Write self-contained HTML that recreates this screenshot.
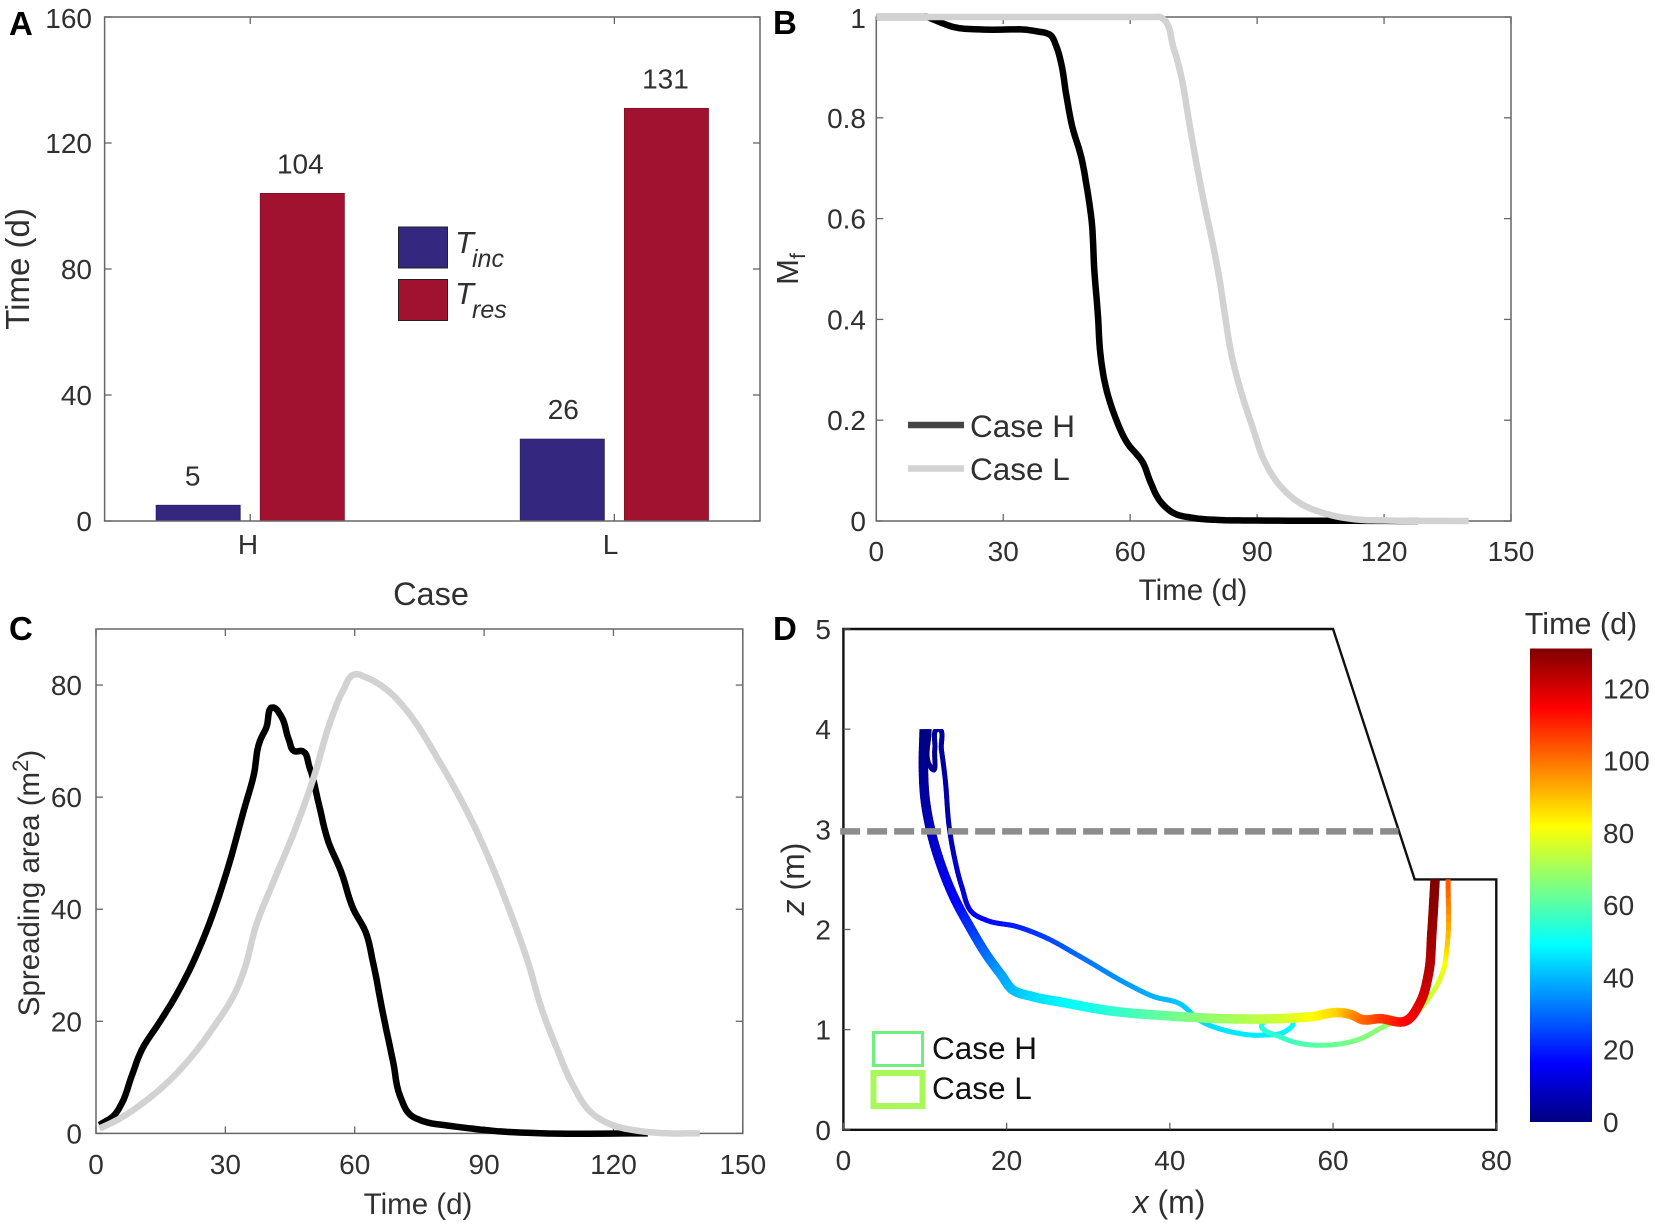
<!DOCTYPE html>
<html lang="en">
<head>
<meta charset="utf-8">
<title>Spreading results, panels A to D</title>
<style>
html,body{margin:0;padding:0;background:#fff;}
svg{display:block;font-family:"Liberation Sans",sans-serif;}
text{fill:#303030;}
.letter{font-weight:bold;font-size:33px;fill:#000;}
.tick{font-size:28px;}
.title{font-size:29.5px;}
</style>
</head>
<body>
<svg id="fig" xmlns="http://www.w3.org/2000/svg" width="1655" height="1226" viewBox="0 0 1655 1226">
  <defs>
    <linearGradient id="jetGrad" x1="0" y1="1" x2="0" y2="0"></linearGradient>
    <clipPath id="clipD"><polygon id="clipDPoly" points=""></polygon></clipPath>
  </defs>
  <rect x="0" y="0" width="1655" height="1226" fill="#fff"></rect>

  <g id="panelA">
    <text class="letter" x="9" y="35">A</text>
    <text class="title" style="font-size:33px" transform="translate(29,269) rotate(-90)" text-anchor="middle">Time (d)</text>
    <text class="title" style="font-size:32.5px" x="431" y="605" text-anchor="middle">Case</text>
    <rect x="398.5" y="227" width="49" height="41" fill="#33277f" stroke="#222" stroke-width="1"></rect>
    <rect x="398.5" y="279.5" width="49" height="41" fill="#a01230" stroke="#222" stroke-width="1"></rect>
    <text x="455" y="253" font-size="31" font-style="italic">T<tspan x="472" y="267" font-size="25">inc</tspan></text>
    <text x="455" y="304" font-size="31" font-style="italic">T<tspan x="472" y="318" font-size="25">res</tspan></text>
  </g>

  <g id="panelB">
    <text class="letter" x="773" y="34">B</text>
    <text class="title" x="1193" y="600" text-anchor="middle">Time (d)</text>
    <text class="title" style="font-size:31px" transform="translate(798,269) rotate(-90)" text-anchor="middle">M<tspan font-size="21" dy="7">f</tspan></text>
  </g>

  <g id="panelC">
    <text class="letter" x="9" y="640">C</text>
    <text class="title" x="418" y="1214" text-anchor="middle">Time (d)</text>
    <text class="title" transform="translate(39,883) rotate(-90)" text-anchor="middle">Spreading area (m<tspan font-size="22" dy="-11">2</tspan><tspan dy="11">)</tspan></text>
  </g>

  <g id="panelD">
    <text class="letter" x="773" y="640">D</text>
    <text class="title" style="font-size:32px" x="1169" y="1213" text-anchor="middle"><tspan font-style="italic">x</tspan> (m)</text>
    <text class="title" style="font-size:32px" transform="translate(804,879) rotate(-90)" text-anchor="middle"><tspan font-style="italic">z</tspan> (m)</text>
    <rect x="873.5" y="1032.5" width="49" height="33" fill="none" stroke="#6ff07c" stroke-width="3"></rect>
    <rect x="873.5" y="1073" width="49" height="33" fill="none" stroke="#a8f85a" stroke-width="6"></rect>
    <text x="932" y="1059" font-size="31.5" style="fill:#111">Case H</text>
    <text x="932" y="1099" font-size="31.5" style="fill:#111">Case L</text>
    <text class="title" style="font-size:30.5px" x="1581" y="634" text-anchor="middle">Time (d)</text>
  </g>
</svg>

<script>
// Panel A values
const barCategories = ['H', 'L'];
const incubationDays = [5, 26];
const residenceDays = [104, 131];
const barTicksY = [0, 40, 80, 120, 160];

// Panel B values
const massTicksX = [0, 30, 60, 90, 120, 150];
const massTicksY = [0, 0.2, 0.4, 0.6, 0.8, 1];
const massTimeH = [0, 11, 12, 13.5, 18.3, 25.6, 37.6, 41.3, 42.5, 43.7, 44.9, 46.3, 48.5, 49.7, 50.9, 51.5, 52.4, 53, 54.5, 56.3, 59.3, 63, 64.8, 67.2, 70.2, 75, 81, 90, 105, 128];
const massValueH = [1, 1, 1, 0.995, 0.98, 0.975, 0.972, 0.963, 0.943, 0.908, 0.845, 0.783, 0.72, 0.665, 0.595, 0.5, 0.406, 0.328, 0.257, 0.21, 0.155, 0.116, 0.077, 0.038, 0.016, 0.006, 0.002, 0.001, 0.0005, 0];
const massTimeL = [0, 30, 60, 66, 67, 67.5, 70.2, 72, 73.8, 75.6, 77.4, 79.2, 81, 82.3, 84, 85.9, 88.9, 91.9, 95.5, 100.4, 106.4, 113.6, 121, 140];
const massValueL = [1, 1, 1, 1, 1, 0.998, 0.94, 0.885, 0.798, 0.712, 0.634, 0.563, 0.485, 0.414, 0.328, 0.265, 0.187, 0.116, 0.069, 0.034, 0.014, 0.003, 0.001, 0];

// Panel C values
const areaTicksX = [0, 30, 60, 90, 120, 150];
const areaTicksY = [0, 20, 40, 60, 80];
const areaTimeH = [0.8, 4.3, 6, 8.3, 10.6, 14.7, 18.1, 22.2, 26.2, 30.8, 34.3, 36.6, 38, 39.5, 41.2, 42.9, 44.7, 46, 47.9, 49.5, 51.6, 53.9, 56.8, 59.7, 62.5, 64.3, 66.6, 68.9, 70.6, 72.9, 75.8, 81.6, 87.3, 93, 100, 128];
const areaValueH = [1.5, 3.3, 5.4, 10.3, 14.9, 19.8, 24, 30, 37.3, 47.9, 57.7, 64, 70, 72.4, 76, 74.5, 70.3, 68.2, 68.2, 65.4, 59, 52, 46.8, 40, 36, 30.3, 21.2, 12.8, 6.5, 3.3, 2.2, 1.4, 0.85, 0.4, 0.1, 0];
const areaTimeL = [0.8, 5.4, 11.2, 17, 22.7, 27.3, 32, 34.3, 37.2, 41.2, 45.8, 50.4, 54.5, 57.3, 59.9, 63.1, 67.7, 72.3, 79.3, 85, 90.2, 95.4, 100, 103.5, 107, 110.4, 115, 119.7, 125.4, 131, 140];
const areaValueL = [0.85, 2.6, 5.6, 9.4, 14.2, 19, 24.7, 29, 37.3, 45, 53.5, 63.3, 73.8, 79, 81.9, 81.2, 79, 75.2, 66.8, 59, 50.7, 40.8, 31, 21.9, 14.9, 8.9, 3.6, 1.5, 0.5, 0.07, 0];

// Panel D values
const trackTicksX = [0, 20, 40, 60, 80];
const trackTicksZ = [0, 1, 2, 3, 4, 5];
const colorbarTicks = [0, 20, 40, 60, 80, 100, 120];
const colorbarMax = 131;
const terrainX = [0, 0, 60, 70, 80, 80, 0];
const terrainZ = [0, 5, 5, 2.5, 2.5, 0, 0];
const waterLevelX = [-0.4, 68];
const waterLevelZ = [2.98, 2.98];
const trackXH = [10.5, 10.7, 10.9, 11.2, 11.63, 12, 12.45, 13, 13.6, 14.5, 15.9, 17.6, 21.2, 24.5, 29, 34.7, 38, 41.2, 43.7, 47.4, 51.4, 54.3, 55.1, 53.3, 51.3, 53.9, 59.3, 62.9, 67, 69.5, 71.5, 73.5, 74, 74.1];
const trackZH = [4, 3.62, 3.6, 3.8, 4, 3.8, 3.52, 3, 2.72, 2.43, 2.16, 2.09, 2.03, 1.93, 1.73, 1.46, 1.33, 1.26, 1.09, 0.98, 0.945, 0.99, 1.06, 1.11, 1.06, 0.915, 0.845, 0.895, 1.06, 1.12, 1.29, 1.59, 1.85, 2.5];
const trackTimeH = [0, 1, 1.5, 2, 3, 3.5, 4, 6, 8, 10, 13, 17, 20, 24, 30, 36, 39, 42, 44, 46, 47, 48, 49, 51, 53, 56, 62, 65, 68, 70, 74, 79, 88, 104];
const trackXL = [9.9, 9.8, 10, 10.7, 11.8, 13.5, 15.6, 17.6, 19.4, 20.7, 23.2, 27, 32.5, 39.4, 46.3, 53.3, 57.4, 60.9, 62.2, 63.6, 65.7, 69, 70.6, 71.7, 72.1, 72.5];
const trackZL = [4, 3.62, 3.31, 2.99, 2.68, 2.33, 2.01, 1.74, 1.54, 1.4, 1.33, 1.27, 1.19, 1.14, 1.11, 1.11, 1.13, 1.17, 1.15, 1.1, 1.11, 1.09, 1.26, 1.56, 1.96, 2.5];
const trackTimeL = [0, 2, 4, 7, 11, 15, 22, 30, 37, 40, 44, 48, 54, 62, 69, 75, 81, 88, 94, 100, 106, 114, 118, 123, 127, 131];

const SVG_NS = 'http://www.w3.org/2000/svg';
function node(parent, tag, attrs) {
  const el = document.createElementNS(SVG_NS, tag);
  for (const k in attrs) el.setAttribute(k, attrs[k]);
  parent.appendChild(el);
  return el;
}
function linear(d0, d1, r0, r1) {
  return v => r0 + (v - d0) * (r1 - r0) / (d1 - d0);
}
function smooth(pts, steps) {
  const n = pts.length;
  const dirs = pts.map((p, i) => {
    const a = pts[Math.max(i - 1, 0)], b = pts[Math.min(i + 1, n - 1)];
    const x1 = p[0] - a[0], y1 = p[1] - a[1], x2 = b[0] - p[0], y2 = b[1] - p[1];
    const l1 = Math.hypot(x1, y1), l2 = Math.hypot(x2, y2);
    let dx, dy;
    if (l1 === 0) { dx = x2; dy = y2; }
    else if (l2 === 0) { dx = x1; dy = y1; }
    else { dx = x1 / l1 * l2 + x2 / l2 * l1; dy = y1 / l1 * l2 + y2 / l2 * l1; }
    const l = Math.hypot(dx, dy) || 1;
    return [dx / l, dy / l];
  });
  const out = [pts[0]];
  for (let i = 0; i < n - 1; i++) {
    const p = pts[i], q = pts[i + 1];
    const L = Math.hypot(q[0] - p[0], q[1] - p[1]) / 3;
    const c1 = [p[0] + dirs[i][0] * L, p[1] + dirs[i][1] * L];
    const c2 = [q[0] - dirs[i + 1][0] * L, q[1] - dirs[i + 1][1] * L];
    for (let s = 1; s <= steps; s++) {
      const f = s / steps, g = 1 - f;
      out.push([
        g*g*g*p[0] + 3*g*g*f*c1[0] + 3*g*f*f*c2[0] + f*f*f*q[0],
        g*g*g*p[1] + 3*g*g*f*c1[1] + 3*g*f*f*c2[1] + f*f*f*q[1],
        p[2] === undefined ? undefined : p[2] + (q[2] - p[2]) * f
      ]);
    }
  }
  return out;
}
function jet(v) {
  const c = x => Math.round(255 * Math.max(0, Math.min(1, x)));
  return 'rgb(' + c(1.5 - Math.abs(4 * v - 3)) + ',' + c(1.5 - Math.abs(4 * v - 2)) + ',' + c(1.5 - Math.abs(4 * v - 1)) + ')';
}
function drawFrame(parent, box, color, width) {
  const f = node(parent, 'rect', {x: box.l, y: box.t, width: box.r - box.l, height: box.b - box.t, fill: 'none', stroke: color, 'stroke-width': width});
  
  
}
function drawTicksX(parent, box, values, scale, labels, labelY, labelScale) {
  values.forEach((v, i) => {
    const t = node(parent, 'line', {x1: scale(v), x2: scale(v), y1: box.b, y2: box.b - 7, stroke: '#666', 'stroke-width': 1.3});
    
    
    const u = node(parent, 'line', {x1: scale(v), x2: scale(v), y1: box.t, y2: box.t + 7, stroke: '#666', 'stroke-width': 1.3});
    
    
    const lab = node(parent, 'text', {x: (labelScale || scale)(v), y: labelY, 'text-anchor': 'middle', class: 'tick'});
    lab.textContent = labels[i];
    
    
  });
}
function drawTicksY(parent, box, values, scale, labelX) {
  values.forEach(v => {
    const t = node(parent, 'line', {x1: box.l, x2: box.l + 7, y1: scale(v), y2: scale(v), stroke: '#666', 'stroke-width': 1.3});
    
    
    const u = node(parent, 'line', {x1: box.r, x2: box.r - 7, y1: scale(v), y2: scale(v), stroke: '#666', 'stroke-width': 1.3});
    
    
    const lab = node(parent, 'text', {x: labelX, y: Math.max(scale(v) + 10, 28), 'text-anchor': 'end', class: 'tick'});
    lab.textContent = String(v);
    
    
  });
}
function curvePath(xs, ys, sx, sy) {
  const pts = xs.map((x, i) => [sx(x), sy(ys[i])]);
  return smooth(pts, 6).map((p, i) => (i ? 'L' : 'M') + p[0].toFixed(1) + ' ' + p[1].toFixed(1)).join('');
}

/* Panel A */
(function () {
  const g = document.getElementById('panelA');
  const box = {l: 104.6, r: 760, t: 17, b: 521};
  const sx = linear(0.6, 2.4, box.l, box.r);
  const sy = linear(0, 160, box.b, box.t);
  const barW = 0.231, off = 0.143;
  const incNudge = [-5.5, 1];
  const resNudge = [-2, -1];
  barCategories.forEach((cat, i) => {
    const c = i + 1;
    const b1 = node(g, 'rect', {x: sx(c - off - barW / 2), y: sy(incubationDays[i]), width: sx(barW) - sx(0), height: box.b - sy(incubationDays[i]), fill: '#33277f', stroke: '#2a2060', 'stroke-width': 0.8});
    
    
    const b2 = node(g, 'rect', {x: sx(c + off - barW / 2), y: sy(residenceDays[i]), width: sx(barW) - sx(0), height: box.b - sy(residenceDays[i]), fill: '#a01230', stroke: '#7c1026', 'stroke-width': 0.8});
    
    
    const l1 = node(g, 'text', {x: sx(c - off) + incNudge[i], y: sy(incubationDays[i]) - 20, 'text-anchor': 'middle', 'font-size': 28});
    l1.textContent = String(incubationDays[i]);
    
    
    const l2 = node(g, 'text', {x: sx(c + off) + resNudge[i], y: sy(residenceDays[i]) - 20, 'text-anchor': 'middle', 'font-size': 28});
    l2.textContent = String(residenceDays[i]);
    
    
  });
  drawFrame(g, box, '#666', 1.5);
  drawTicksX(g, box, barCategories.map((c, i) => i + 1), sx, barCategories, 554, linear(1, 2, 248, 610.5));
  drawTicksY(g, box, barTicksY, sy, 92);
})();

/* Panel B */
(function () {
  const g = document.getElementById('panelB');
  const box = {l: 876.3, r: 1511, t: 17, b: 521};
  const sx = linear(0, 150, box.l, box.r);
  const sy = linear(0, 1, box.b, box.t);
  drawFrame(g, box, '#666', 1.5);
  drawTicksX(g, box, massTicksX, sx, massTicksX.map(String), 561);
  drawTicksY(g, box, massTicksY, sy, 866);
  const h = node(g, 'path', {d: curvePath(massTimeH, massValueH, sx, sy), fill: 'none', stroke: '#000', 'stroke-width': 6.5, 'stroke-linejoin': 'round'});
  
  
  const l = node(g, 'path', {d: curvePath(massTimeL, massValueL, sx, sy), fill: 'none', stroke: '#d2d2d2', 'stroke-width': 6.5, 'stroke-linejoin': 'round'});
  
  
  const k1 = node(g, 'line', {x1: 908, x2: 964, y1: 425, y2: 425, stroke: '#444', 'stroke-width': 6.5});
  
  
  const k2 = node(g, 'line', {x1: 908, x2: 964, y1: 468.5, y2: 468.5, stroke: '#d2d2d2', 'stroke-width': 6.5});
  
  
  const t1 = node(g, 'text', {x: 970, y: 437, 'font-size': 31.5});
  t1.textContent = 'Case H';
  
  
  const t2 = node(g, 'text', {x: 970, y: 480, 'font-size': 31.5});
  t2.textContent = 'Case L';
  
  
})();

/* Panel C */
(function () {
  const g = document.getElementById('panelC');
  const box = {l: 96, r: 742.8, t: 629, b: 1133.4};
  const sx = linear(0, 150, box.l, box.r);
  const sy = linear(0, 90, box.b, box.t);
  drawFrame(g, box, '#666', 1.5);
  drawTicksX(g, box, areaTicksX, sx, areaTicksX.map(String), 1174);
  drawTicksY(g, box, areaTicksY, sy, 82);
  const h = node(g, 'path', {d: curvePath(areaTimeH, areaValueH, sx, sy), fill: 'none', stroke: '#000', 'stroke-width': 6.5, 'stroke-linejoin': 'round'});
  
  
  const l = node(g, 'path', {d: curvePath(areaTimeL, areaValueL, sx, sy), fill: 'none', stroke: '#d2d2d2', 'stroke-width': 6.5, 'stroke-linejoin': 'round'});
  
  
})();

/* Panel D */
(function () {
  const g = document.getElementById('panelD');
  const box = {l: 843.4, r: 1496.3, t: 629, b: 1129.8};
  const sx = linear(0, 80, box.l, box.r);
  const sz = linear(0, 5, box.b, box.t);
  document.getElementById('clipDPoly').setAttribute('points',
    [[0, 4], [66, 4], [66, 2.5], [80, 2.5], [80, 0], [0, 0]].map(p => sx(p[0]) + ',' + sz(p[1])).join(' '));

  const terrain = node(g, 'path', {d: terrainX.map((x, i) => (i ? 'L' : 'M') + sx(x) + ' ' + sz(terrainZ[i])).join('') + 'Z', fill: 'none', stroke: '#111', 'stroke-width': 2.4});
  
  

  trackTicksX.forEach(v => {
    const t = node(g, 'line', {x1: sx(v), x2: sx(v), y1: box.b, y2: box.b - 7, stroke: '#555', 'stroke-width': 1.2});
    
    
    const lab = node(g, 'text', {x: sx(v), y: 1170, 'text-anchor': 'middle', class: 'tick'});
    lab.textContent = String(v);
    
    
  });
  trackTicksZ.forEach(v => {
    const t = node(g, 'line', {x1: box.l, x2: box.l + 7, y1: sz(v), y2: sz(v), stroke: '#555', 'stroke-width': 1.2});
    
    
    const lab = node(g, 'text', {x: 831, y: sz(v) + 10, 'text-anchor': 'end', class: 'tick'});
    lab.textContent = String(v);
    
    
  });

  const clipG = node(g, 'g', {'clip-path': 'url(#clipD)'});
  
  
  function track(xs, zs, ts, width, name) {
    const pts = xs.map((x, i) => [sx(x), sz(zs[i]), ts[i]]);
    const s = smooth(pts, 8);
    for (let i = 0; i < s.length - 1; i++) {
      const seg = node(clipG, 'line', {
        x1: s[i][0].toFixed(2), y1: s[i][1].toFixed(2), x2: s[i + 1][0].toFixed(2), y2: s[i + 1][1].toFixed(2),
        stroke: jet((s[i][2] + s[i + 1][2]) / 2 / colorbarMax), 'stroke-width': width, 'stroke-linecap': 'round'
      });
      
      
    }
  }
  track(trackXH, trackZH, trackTimeH, 5, 'trajectory-case-h-segment');
  track(trackXL, trackZL, trackTimeL, 9.5, 'trajectory-case-l-segment');

  const water = node(g, 'line', {x1: sx(waterLevelX[0]), x2: sx(waterLevelX[1]), y1: sz(waterLevelZ[0]), y2: sz(waterLevelZ[1]), stroke: '#8c8c8c', 'stroke-width': 6.5, 'stroke-dasharray': '20 7'});
  
  

  /* colorbar */
  const grad = document.getElementById('jetGrad');
  for (let i = 0; i <= 32; i++) {
    node(grad, 'stop', {offset: (i / 32), 'stop-color': jet(i / 32)});
  }
  const cbTop = 648.5, cbBot = 1122, cbL = 1530, cbR = 1592;
  const sc = linear(0, colorbarMax, cbBot, cbTop);
  const bar = node(g, 'rect', {x: cbL, y: cbTop, width: cbR - cbL, height: cbBot - cbTop, fill: 'url(#jetGrad)'});
  
  
  colorbarTicks.forEach(v => {
    const lab = node(g, 'text', {x: 1603, y: sc(v) + 10, class: 'tick'});
    lab.textContent = String(v);
    
    
  });
})();
</script>
</body>
</html>
